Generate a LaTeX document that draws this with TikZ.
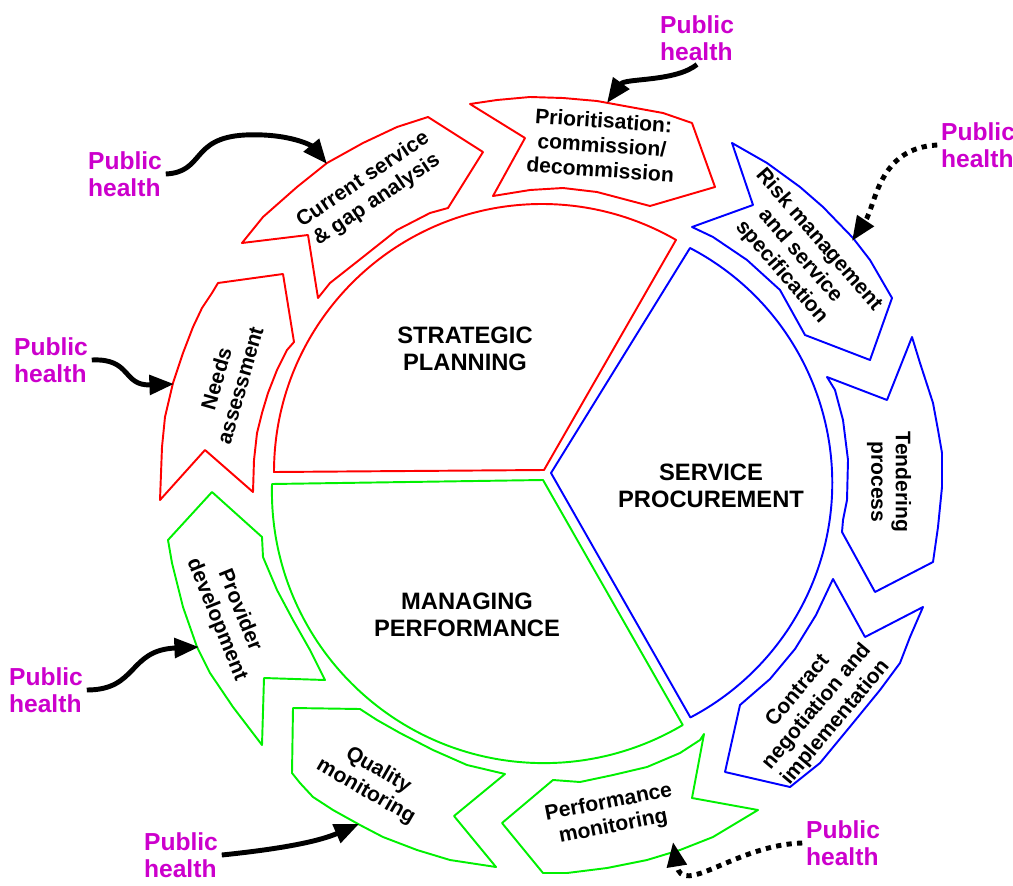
\documentclass[tikz,border=0pt]{standalone}
\usepackage{fontspec}
\setmainfont{Liberation Sans}
\usepackage{tikz}
\usetikzlibrary{arrows.meta}
\usepackage{xcolor}
\definecolor{phpink}{RGB}{204,0,204}
\definecolor{phred}{RGB}{255,0,0}
\definecolor{phblue}{RGB}{0,0,255}
\definecolor{phgreen}{RGB}{0,240,0}

\tikzset{
  outline/.style={line width=1.1pt, line join=round},
  steplabel/.style={font=\bfseries\fontsize{12}{14}\selectfont, align=center, inner sep=0pt},
  sectorlabel/.style={font=\bfseries\fontsize{13.5}{15.5}\selectfont, align=center, inner sep=0pt},
  health/.style={text=phpink, font=\bfseries\fontsize{14}{15.5}\selectfont, align=left, inner sep=2pt},
  feed/.style={line width=2.8pt, -{Triangle[length=14pt,width=11pt]}},
  feeddot/.style={feed, dash pattern=on 3pt off 3pt}
}

\begin{document}
\begin{tikzpicture}[x=0.02cm, y=-0.02cm]
	\useasboundingbox (0,0) rectangle (1013,885);
	% three sectors
	\draw[outline, phred] (544,470) -- (274,472) arc[start angle=-180, end angle=-60, radius=268] -- cycle;
	\draw[outline, phblue] (551,473) -- (690,248) arc[start angle=-62.4, end angle=62.3, radius=265] -- cycle;
	\draw[outline, phgreen] (543,480) -- (272,484) arc[start angle=-178.5, end angle=-300.7, radius=272] -- cycle;
	\node[sectorlabel] (plan) at (465,349) {STRATEGIC\\PLANNING};
	\node[sectorlabel] (proc) at (711,486) {SERVICE\\PROCUREMENT};
	\node[sectorlabel] (perf) at (467,615) {MANAGING\\PERFORMANCE};
	% red steps
	\draw[outline, phred] (160,500) -- (162,447) -- (165,417) -- (173,383) -- (183,353) -- (193,327) -- (202,308) -- (212,293) -- (218,283)
		-- (283,274) -- (294,342) -- (287,350) -- (277,370) -- (268,393) -- (262,413) -- (257,433) -- (254,460) -- (253,492) -- (205,450) -- cycle;
	\draw[outline, phred] (242,243) -- (308,235) -- (318,298) -- (330,283) -- (363,257) -- (397,230) -- (430,213) -- (448,208)
		-- (483,152) -- (428,117) -- (397,127) -- (363,143) -- (327,163) -- (297,187) -- (263,217) -- cycle;
	\draw[outline, phred] (470,104) -- (525,138) -- (493,196) -- (530,190) -- (563,188) -- (597,192) -- (650,206)
		-- (715,187) -- (692,123) -- (663,113) -- (630,107) -- (597,101) -- (563,98) -- (530,97) -- (497,100) -- cycle;
	% blue steps
	\draw[outline, phblue] (732,143) -- (753,205) -- (692,227) -- (713,237) -- (747,260) -- (780,290) -- (805,335)
		-- (870,360) -- (892,298) -- (870,260) -- (853,238) -- (823,207) -- (800,187) -- (767,163) -- cycle;
	\draw[outline, phblue] (912,337) -- (887,400) -- (827,377) -- (835,390) -- (843,420) -- (848,460) -- (847,500) -- (843,520) -- (842,532)
		-- (875,592) -- (933,562) -- (938,527) -- (942,487) -- (942,453) -- (938,430) -- (933,403) -- (920,363) -- cycle;
	\draw[outline, phblue] (923,607) -- (865,637) -- (833,579) -- (816,615) -- (795,649) -- (770,679) -- (740,705)
		-- (725,772) -- (790,787) -- (820,763) -- (853,723) -- (880,690) -- (900,663) -- (910,637) -- cycle;
	% green steps
	\draw[outline, phgreen] (704,734) -- (692,798) -- (758,810) -- (713,837) -- (680,850) -- (647,860) -- (607,868) -- (567,873) -- (543,873)
		-- (502,823) -- (553,780) -- (580,782) -- (613,775) -- (647,767) -- (680,753) -- (700,740) -- cycle;
	\draw[outline, phgreen] (505,774) -- (454,816) -- (496,867) -- (450,860) -- (417,850) -- (383,837) -- (360,825) -- (333,810) -- (313,797) -- (300,783) -- (292,773)
		-- (293,708) -- (360,709) -- (377,720) -- (400,733) -- (433,750) -- (467,765) -- cycle;
	\draw[outline, phgreen] (212,492) -- (168,540) -- (172,563) -- (183,607) -- (197,647) -- (210,673) -- (233,707) -- (262,745)
		-- (264,678) -- (325,680) -- (310,650) -- (293,620) -- (277,590) -- (263,557) -- (262,537) -- cycle;
	% step labels
	\node[steplabel, rotate=74] (needs) at (228,382) {Needs\\assessment};
	\node[steplabel, rotate=34] (gap) at (370,190) {Current service\\\& gap analysis};
	\node[steplabel, rotate=-4] (prio) at (602,145) {Prioritisation:\\commission/\\decommission};
	\node[steplabel, rotate=-49] (risk) at (800,256) {Risk management\\and service\\specification};
	\node[steplabel, rotate=-90] (tender) at (889,482) {Tendering\\process};
	\node[steplabel, rotate=50] (contract) at (817,707) {Contract\\negotiation and\\implementation};
	\node[steplabel, rotate=11] (permon) at (611,815) {Performance\\monitoring};
	\node[steplabel, rotate=-30] (qualmon) at (372,781) {Quality\\monitoring};
	\node[steplabel, rotate=-68] (provdev) at (228,615) {Provider\\development};
	% public health inputs
	\node[health] (ph1) at (697,38) {Public\\health};
	\node[health] (ph2) at (125,174) {Public\\health};
	\node[health] (ph3) at (51,360) {Public\\health};
	\node[health] (ph4) at (46,690) {Public\\health};
	\node[health] (ph5) at (181,855) {Public\\health};
	\node[health] (ph6) at (978,145) {Public\\health};
	\node[health] (ph7) at (843,843) {Public\\health};
	\coordinate (t1) at (607,103);
	\coordinate (t2) at (327,164);
	\coordinate (t3) at (174,384);
	\coordinate (t4) at (199,647);
	\coordinate (t5) at (359,824);
	\coordinate (t6) at (852,241);
	\coordinate (t7) at (673,842);
	\draw[feed] (ph1.south) .. controls (675,82) and (625,78) .. (t1);
	\draw[feed] (ph2.east) .. controls (205,172) and (190,138) .. (245,135) .. controls (290,133) and (312,146) .. (t2);
	\draw[feed] (ph3.east) .. controls (132,358) and (122,386) .. (t3);
	\draw[feed] (ph4.east) .. controls (138,690) and (128,650) .. (t4);
	\draw[feed] (ph5.east) .. controls (290,848) and (322,840) .. (t5);
	\draw[feeddot] (ph6.west) .. controls (878,148) and (876,205) .. (t6);
	\draw[feeddot] (ph7.west) .. controls (735,845) and (682,898) .. (t7);
\end{tikzpicture}
\end{document}
